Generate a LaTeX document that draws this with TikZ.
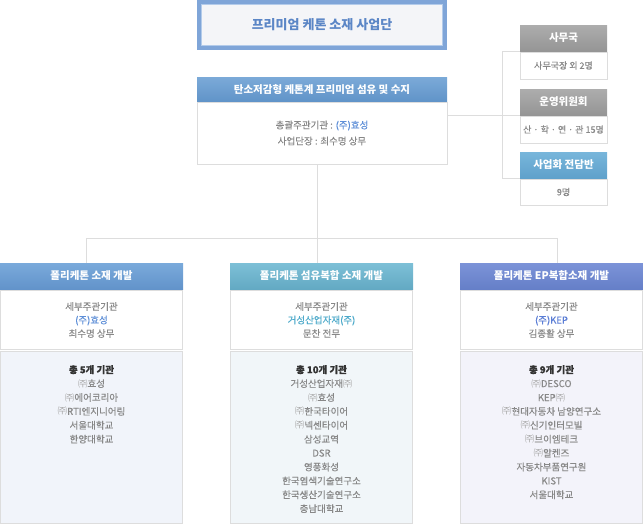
\documentclass[tikz,border=0pt]{standalone}
\usepackage{fontspec}
\setmainfont{Noto Sans CJK KR}
\newfontfamily\medfont[FakeBold=0.35]{Noto Sans CJK KR}
\newfontfamily\plainfont{Noto Sans CJK KR}
\definecolor{lineg}{HTML}{DDDDDD}
\definecolor{txtg}{HTML}{888888}
\definecolor{ttlframe}{HTML}{7FA5D8}
\definecolor{ttlin}{HTML}{B3CBEA}
\definecolor{ttlfill}{HTML}{F4F5F8}
\definecolor{ttltext}{HTML}{5B86C6}
\definecolor{hyob}{HTML}{5E8FD8}
\definecolor{tealt}{HTML}{4DAACB}
\definecolor{kepb}{HTML}{5B7ED6}
\definecolor{darkt}{HTML}{333333}
\definecolor{jug}{HTML}{AAAAAA}
\definecolor{fillL}{HTML}{F1F4FA}
\definecolor{fillM}{HTML}{F1F6F9}
\definecolor{fillR}{HTML}{F3F3FA}
\definecolor{cA}{HTML}{7AAADB}
\definecolor{cB}{HTML}{6293CA}
\definecolor{cC}{HTML}{7DC0D7}
\definecolor{cD}{HTML}{63A9C3}
\definecolor{cE}{HTML}{7C93D8}
\definecolor{cF}{HTML}{657FC8}
\definecolor{cG}{HTML}{7BAAD8}
\definecolor{cH}{HTML}{6093C8}
\definecolor{cI}{HTML}{ADADAD}
\definecolor{cJ}{HTML}{959595}
\definecolor{cK}{HTML}{78B6DB}
\definecolor{cL}{HTML}{5FA1CB}
\newcommand{\jusym}{{\plainfont\color{jug}㈜}}
\tikzset{
  box/.style={anchor=north west, inner sep=0pt, outer sep=0pt},
  hdr/.style={box, draw=none, text=white, font=\bfseries\fontsize{10.5}{12}\selectfont},
  hblue/.style={hdr, top color=cA, bottom color=cB},
  hteal/.style={hdr, top color=cC, bottom color=cD},
  hviolet/.style={hdr, top color=cE, bottom color=cF},
  hmain/.style={hdr, top color=cG, bottom color=cH},
  hgrey/.style={hdr, top color=cI, bottom color=cJ},
  hbiz/.style={hdr, top color=cK, bottom color=cL},
  bodybox/.style={box, draw=lineg, line width=1pt, fill=white, text=txtg, align=center, font=\medfont\fontsize{9.5}{13.5}\selectfont},
  smallbody/.style={box, draw=lineg, line width=1pt, fill=white, text=txtg, font=\medfont\fontsize{9}{11}\selectfont},
  listbox/.style={box, draw=lineg, line width=1pt},
  listtxt/.style={anchor=north, inner sep=0pt, text=txtg, align=center, font=\medfont\fontsize{9.5}{13.9}\selectfont},
  conn/.style={draw=lineg, line width=1pt},
}
\begin{document}
\begin{tikzpicture}[x=1pt,y=-1pt]
\useasboundingbox (0,0) rectangle (643,525);
% title
\node[box, fill=ttlframe, minimum width=250pt, minimum height=50pt] (ttlout) at (197,0) {};
\node[draw=ttlin, line width=1pt, fill=ttlfill, minimum width=241pt, minimum height=41pt, inner sep=0pt,
      text=ttltext, font=\bfseries\fontsize{13}{15}\selectfont] (title) at (ttlout.center) {프리미엄 케톤 소재 사업단};
% main
\node[hmain, minimum width=250pt, minimum height=25pt] (mh) at (197,77) {탄소저감형 케톤계 프리미엄 섬유 및 수지};
\node[bodybox, minimum width=250pt, minimum height=62pt, font=\medfont\fontsize{9.5}{16}\selectfont] (mb) at (197,102)
  {총괄주관기관 : {\color{hyob}(주)효성}\\사업단장 : 최수명 상무};
% right side boxes
\node[hgrey, minimum width=87pt, minimum height=26pt] (s1h) at (520,25) {사무국};
\node[smallbody, minimum width=87pt, minimum height=27pt] (s1b) at (520,52) {사무국장 외 2명};
\node[hgrey, minimum width=87pt, minimum height=26pt] (s2h) at (520,89) {운영위원회};
\node[smallbody, minimum width=87pt, minimum height=27pt] (s2b) at (520,116) {산 · 학 · 연 · 관 15명};
\node[hbiz, minimum width=87pt, minimum height=26pt] (s3h) at (520,152) {사업화 전담반};
\node[smallbody, minimum width=87pt, minimum height=26pt] (s3b) at (520,179) {9명};
% columns
\node[hblue, minimum width=183pt, minimum height=26pt] (h1) at (0,263) {폴리케톤 소재 개발};
\node[hteal, minimum width=183pt, minimum height=26pt] (h2) at (230,263) {폴리케톤 섬유복합 소재 개발};
\node[hviolet, minimum width=183pt, minimum height=26pt] (h3) at (460,263) {폴리케톤 EP복합소재 개발};
\node[bodybox, minimum width=182pt, minimum height=59pt] (b1) at (0.5,290.5) {세부주관기관\\{\color{hyob}(주)효성}\\최수명 상무};
\node[bodybox, minimum width=182pt, minimum height=59pt] (b2) at (230.5,290.5) {세부주관기관\\{\color{tealt}거성산업자재(주)}\\문찬 전무};
\node[bodybox, minimum width=182pt, minimum height=59pt] (b3) at (460.5,290.5) {세부주관기관\\{\color{kepb}(주)KEP}\\김종활 상무};
\node[listbox, fill=fillL, minimum width=182pt, minimum height=172pt] (l1) at (0.5,351.5) {};
\node[listbox, fill=fillM, minimum width=182pt, minimum height=172pt] (l2) at (230.5,351.5) {};
\node[listbox, fill=fillR, minimum width=182pt, minimum height=172pt] (l3) at (460.5,351.5) {};
\node[listtxt] (t1) at ([yshift=-13.5pt]l1.north) {{\bfseries\color{darkt}총 5개 기관}\\\jusym 효성\\\jusym 에어코리아\\\jusym RTI엔지니어링\\서울대학교\\한양대학교};
\node[listtxt] (t2) at ([yshift=-13.5pt]l2.north) {{\bfseries\color{darkt}총 10개 기관}\\거성산업자재\jusym\\\jusym 효성\\\jusym 한국타이어\\\jusym 넥센타이어\\삼성교역\\DSR\\영풍화성\\한국염색기술연구소\\한국생산기술연구소\\충남대학교};
\node[listtxt] (t3) at ([yshift=-13.5pt]l3.north) {{\bfseries\color{darkt}총 9개 기관}\\\jusym DESCO\\KEP\jusym\\\jusym 현대자동차 남양연구소\\\jusym 신기인터모빌\\\jusym 브이엠테크\\\jusym 알켄즈\\자동차부품연구원\\KIST\\서울대학교};
% connectors
\coordinate (jl) at (86,238);
\coordinate (jm) at (317,238);
\coordinate (jr) at (557,238);
\draw[conn] (jl |- h1.north) -- (jl) -- (jr) -- (jr |- h3.north);
\draw[conn] (jm |- mb.south) -- (jm |- h2.north);
\coordinate (rv) at (502,116);
\draw[conn] (mb.east |- s2h.south west) -- (s2h.south west);
\draw[conn] (s1h.south west) -- (s1h.south west -| rv) -- (s3h.south west -| rv) -- (s3h.south west);
\end{tikzpicture}
\end{document}
